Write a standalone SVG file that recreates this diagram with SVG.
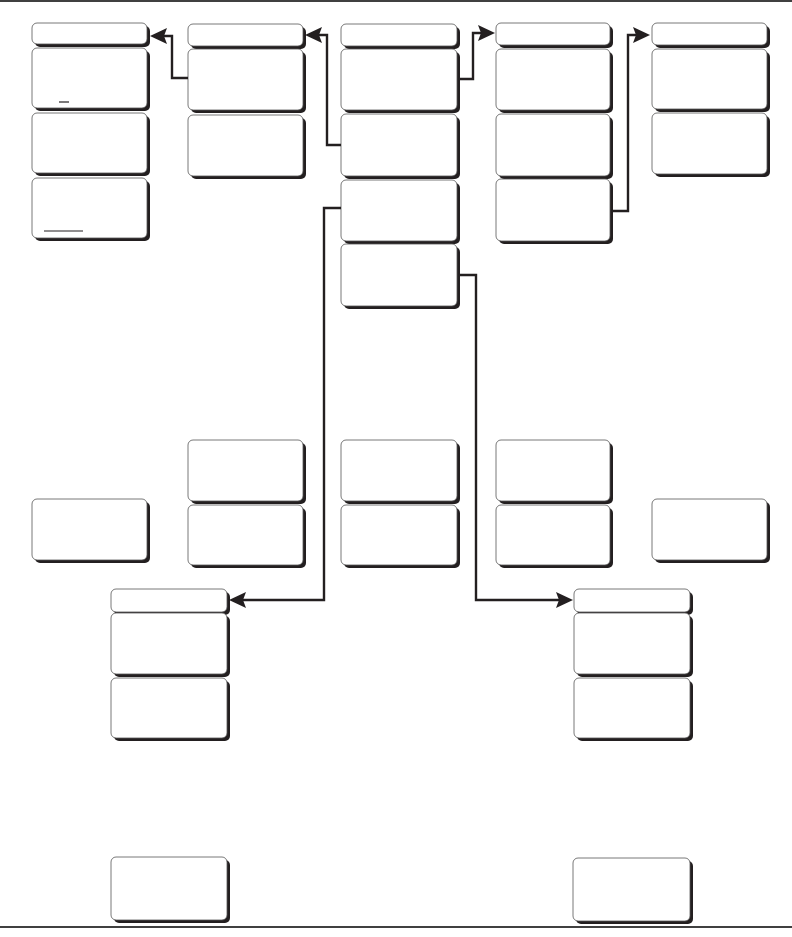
<svg xmlns="http://www.w3.org/2000/svg" width="792" height="937" viewBox="0 0 792 937">
<style>
.sh{fill:#231f20}
.bx{fill:#fff;stroke:#555;stroke-width:0.8}
.cn{fill:none;stroke:#231f20;stroke-width:2.4}
.ah{fill:#231f20}
.rule{stroke:#000;stroke-width:1.5}
.ul{stroke:#231f20;stroke-width:1.2}
</style>
<rect width="792" height="937" fill="#fff"/>
<line class="rule" x1="0" y1="1" x2="792" y2="1"/>
<line class="rule" x1="0" y1="927" x2="792" y2="927"/>

<g id="col1">
<g id="c1h"><rect class="sh" x="35" y="26" width="115" height="21" rx="5"/><rect class="bx" x="32" y="23" width="115" height="21" rx="5"/></g>
<g id="c1b1"><rect class="sh" x="35" y="51" width="115" height="60" rx="5"/><rect class="bx" x="32" y="48" width="115" height="60" rx="5"/><line class="ul" x1="59" y1="102" x2="69" y2="102"/></g>
<g id="c1b2"><rect class="sh" x="35" y="116" width="115" height="60" rx="5"/><rect class="bx" x="32" y="113" width="115" height="60" rx="5"/></g>
<g id="c1b3"><rect class="sh" x="35" y="181" width="115" height="60" rx="5"/><rect class="bx" x="32" y="178" width="115" height="60" rx="5"/><line class="ul" x1="44" y1="231" x2="83" y2="231"/></g>
</g>

<g id="col2">
<g id="c2h"><rect class="sh" x="191" y="27" width="115" height="22" rx="5"/><rect class="bx" x="188" y="24" width="115" height="22" rx="5"/></g>
<g id="c2b1"><rect class="sh" x="191" y="52" width="115" height="61" rx="5"/><rect class="bx" x="188" y="49" width="115" height="61" rx="5"/></g>
<g id="c2b2"><rect class="sh" x="191" y="118" width="115" height="61" rx="5"/><rect class="bx" x="188" y="115" width="115" height="61" rx="5"/></g>
</g>

<g id="col3">
<g id="c3h"><rect class="sh" x="344" y="27" width="116" height="22" rx="5"/><rect class="bx" x="341" y="24" width="116" height="22" rx="5"/></g>
<g id="c3b1"><rect class="sh" x="344" y="52" width="116" height="61" rx="5"/><rect class="bx" x="341" y="49" width="116" height="61" rx="5"/></g>
<g id="c3b2"><rect class="sh" x="344" y="117" width="116" height="62" rx="5"/><rect class="bx" x="341" y="114" width="116" height="62" rx="5"/></g>
<g id="c3b3"><rect class="sh" x="344" y="183" width="116" height="61" rx="5"/><rect class="bx" x="341" y="180" width="116" height="61" rx="5"/></g>
<g id="c3b4"><rect class="sh" x="344" y="247" width="116" height="62" rx="5"/><rect class="bx" x="341" y="244" width="116" height="62" rx="5"/></g>
</g>

<g id="col4">
<g id="c4h"><rect class="sh" x="499" y="26" width="114" height="22" rx="5"/><rect class="bx" x="496" y="23" width="114" height="22" rx="5"/></g>
<g id="c4b1"><rect class="sh" x="499" y="52" width="114" height="61" rx="5"/><rect class="bx" x="496" y="49" width="114" height="61" rx="5"/></g>
<g id="c4b2"><rect class="sh" x="499" y="117" width="114" height="62" rx="5"/><rect class="bx" x="496" y="114" width="114" height="62" rx="5"/></g>
<g id="c4b3"><rect class="sh" x="499" y="182" width="114" height="62" rx="5"/><rect class="bx" x="496" y="179" width="114" height="62" rx="5"/></g>
</g>

<g id="col5">
<g id="c5h"><rect class="sh" x="655" y="26" width="115" height="22" rx="5"/><rect class="bx" x="652" y="23" width="115" height="22" rx="5"/></g>
<g id="c5b1"><rect class="sh" x="655" y="52" width="115" height="60" rx="5"/><rect class="bx" x="652" y="49" width="115" height="60" rx="5"/></g>
<g id="c5b2"><rect class="sh" x="655" y="116" width="115" height="61" rx="5"/><rect class="bx" x="652" y="113" width="115" height="61" rx="5"/></g>
</g>

<g id="mid">
<g id="m1"><rect class="sh" x="35" y="502" width="115" height="61" rx="5"/><rect class="bx" x="32" y="499" width="115" height="61" rx="5"/></g>
<g id="m2a"><rect class="sh" x="191" y="443" width="115" height="61" rx="5"/><rect class="bx" x="188" y="440" width="115" height="61" rx="5"/></g>
<g id="m2b"><rect class="sh" x="191" y="508" width="115" height="60" rx="5"/><rect class="bx" x="188" y="505" width="115" height="60" rx="5"/></g>
<g id="m3a"><rect class="sh" x="344" y="443" width="116" height="61" rx="5"/><rect class="bx" x="341" y="440" width="116" height="61" rx="5"/></g>
<g id="m3b"><rect class="sh" x="344" y="508" width="116" height="60" rx="5"/><rect class="bx" x="341" y="505" width="116" height="60" rx="5"/></g>
<g id="m4a"><rect class="sh" x="499" y="443" width="114" height="61" rx="5"/><rect class="bx" x="496" y="440" width="114" height="61" rx="5"/></g>
<g id="m4b"><rect class="sh" x="499" y="508" width="114" height="60" rx="5"/><rect class="bx" x="496" y="505" width="114" height="60" rx="5"/></g>
<g id="m5"><rect class="sh" x="655" y="502" width="115" height="61" rx="5"/><rect class="bx" x="652" y="499" width="115" height="61" rx="5"/></g>
</g>

<g id="botL">
<g id="bLh"><rect class="sh" x="114" y="592" width="116" height="23" rx="5"/><rect class="bx" x="111" y="589" width="116" height="23" rx="5"/></g>
<g id="bLb1"><rect class="sh" x="114" y="616" width="116" height="61" rx="5"/><rect class="bx" x="111" y="613" width="116" height="61" rx="5"/></g>
<g id="bLb2"><rect class="sh" x="114" y="681" width="116" height="60" rx="5"/><rect class="bx" x="111" y="678" width="116" height="60" rx="5"/></g>
<g id="bLb3"><rect class="sh" x="114" y="860" width="116" height="63" rx="5"/><rect class="bx" x="111" y="857" width="116" height="63" rx="5"/></g>
</g>

<g id="botR">
<g id="bRh"><rect class="sh" x="577" y="592" width="116" height="23" rx="5"/><rect class="bx" x="574" y="589" width="116" height="23" rx="5"/></g>
<g id="bRb1"><rect class="sh" x="577" y="616" width="116" height="61" rx="5"/><rect class="bx" x="574" y="613" width="116" height="61" rx="5"/></g>
<g id="bRb2"><rect class="sh" x="577" y="681" width="116" height="60" rx="5"/><rect class="bx" x="574" y="678" width="116" height="60" rx="5"/></g>
<g id="bRb3"><rect class="sh" x="576" y="861" width="117" height="63" rx="5"/><rect class="bx" x="573" y="858" width="117" height="63" rx="5"/></g>
</g>

<g id="connectors">
<path class="cn" d="M188,78 H172 V36 H164"/>
<polygon class="ah" points="150,36 167,28 164,36 167,44"/>
<path class="cn" d="M341,145 H327 V35 H319"/>
<polygon class="ah" points="305,35 322,27 319,35 322,43"/>
<path class="cn" d="M460,79 H473 V33 H481"/>
<polygon class="ah" points="495,33 478,25 481,33 478,41"/>
<path class="cn" d="M613,211 H628 V35 H636"/>
<polygon class="ah" points="650,35 633,27 636,35 633,43"/>
<path class="cn" d="M341,208 H324 V600 H243"/>
<polygon class="ah" points="229,600 246,592 243,600 246,608"/>
<path class="cn" d="M460,275 H476 V600 H559"/>
<polygon class="ah" points="573,600 556,592 559,600 556,608"/>
</g>
</svg>
